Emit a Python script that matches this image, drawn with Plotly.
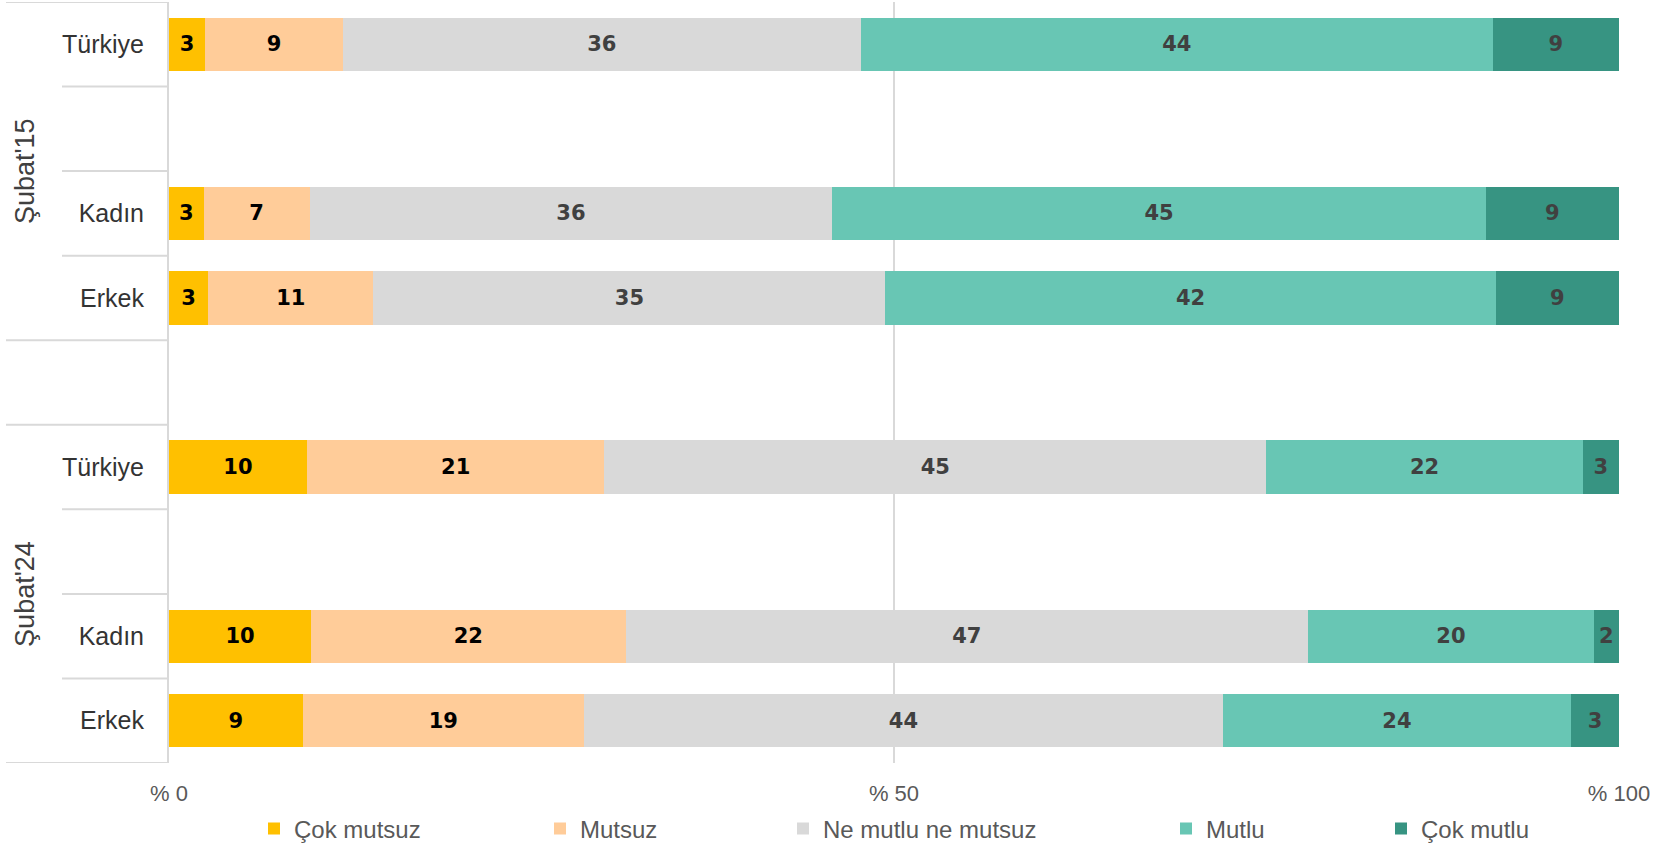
import plotly.graph_objects as go

# ---- data ----
row_keys = ["t15", "b1", "k15", "e15", "gap", "t24", "b2", "k24", "e24"]
row_labels = ["Türkiye", "", "Kadın", "Erkek", "", "Türkiye", "", "Kadın", "Erkek"]
group_labels = ["Şubat'15", "Şubat'24"]
bar_rows = ["t15", "k15", "e15", "t24", "k24", "e24"]

series = ["Çok mutsuz", "Mutsuz", "Ne mutlu ne mutsuz", "Mutlu", "Çok mutlu"]

# segment sizes (%)
cok_mutsuz = [2.5, 2.4, 2.7, 9.5, 9.8, 9.2]
mutsuz = [9.5, 7.3, 11.4, 20.5, 21.7, 19.4]
ne_mutlu = [35.7, 36.1, 35.3, 45.6, 47.1, 44.0]
mutlu = [43.6, 45.1, 42.1, 21.8, 19.7, 24.0]
cok_mutlu = [8.7, 9.2, 8.5, 2.5, 1.75, 3.3]

# printed value labels
lbl_cok_mutsuz = [3, 3, 3, 10, 10, 9]
lbl_mutsuz = [9, 7, 11, 21, 22, 19]
lbl_ne_mutlu = [36, 36, 35, 45, 47, 44]
lbl_mutlu = [44, 45, 42, 22, 20, 24]
lbl_cok_mutlu = [9, 9, 9, 3, 2, 3]

x_tickvals = [0, 50, 100]
x_ticktext = ["% 0", "% 50", "% 100"]

colors = ["#FFC000", "#FFCC99", "#D9D9D9", "#68C6B4", "#379482"]
text_colors = ["#000000", "#000000", "#404040", "#404040", "#404040"]
values = [cok_mutsuz, mutsuz, ne_mutlu, mutlu, cok_mutlu]
labels = [lbl_cok_mutsuz, lbl_mutsuz, lbl_ne_mutlu, lbl_mutlu, lbl_cok_mutlu]

# legend text start positions in page pixels (reference)
legend_text_px = [293, 579, 822, 1205, 1420]

W, H = 1655, 845
ML, MR, MT = 169, 36, 2
PLOT_BOTTOM = 763
MB = H - PLOT_BOTTOM
PW = W - ML - MR
PH = H - MT - MB

fig = go.Figure()
legend_ids = ["legend", "legend2", "legend3", "legend4", "legend5"]
for i, name in enumerate(series):
    fig.add_trace(go.Bar(
        y=bar_rows, x=values[i], orientation="h", name=name,
        marker=dict(color=colors[i], line=dict(width=0)),
        text=[str(v) for v in labels[i]],
        textposition="inside", insidetextanchor="middle", textangle=0,
        textfont=dict(family="DejaVu Sans", size=21, weight="bold", color=text_colors[i]),
        legend=legend_ids[i], hoverinfo="skip",
    ))

layout_legends = {}
for i, lid in enumerate(legend_ids):
    layout_legends[lid] = dict(
        x=(legend_text_px[i] - 39 - ML) / PW, xanchor="left",
        y=-(829 - PLOT_BOTTOM) / PH, yanchor="middle",
        orientation="h", bgcolor="rgba(0,0,0,0)",
        font=dict(family="Liberation Sans, Arial, sans-serif", size=24, color="#595959"),
        itemwidth=30,
    )

shapes = []
line_col = "#D9D9D9"
for b in [-0.5, 3.5, 4.5, 8.5]:
    shapes.append(dict(type="line", xref="paper", yref="y",
                       x0=(6 - ML) / PW, x1=0, y0=b, y1=b,
                       line=dict(color=line_col, width=2)))
for b in [0.5, 1.5, 2.5, 5.5, 6.5, 7.5]:
    shapes.append(dict(type="line", xref="paper", yref="y",
                       x0=(62 - ML) / PW, x1=0, y0=b, y1=b,
                       line=dict(color=line_col, width=2)))

annotations = []
for g, center in zip(group_labels, [1.5, 6.5]):
    annotations.append(dict(
        text=g, x=0, xref="paper", y=center, yref="y", xshift=25 - ML,
        textangle=-90, showarrow=False, xanchor="center", yanchor="middle",
        font=dict(family="Liberation Sans, Arial, sans-serif", size=27, color="#404040"),
    ))

fig.update_layout(
    width=W, height=H,
    margin=dict(l=ML, r=MR, t=MT, b=MB, autoexpand=False),
    paper_bgcolor="white", plot_bgcolor="white",
    barmode="stack", barnorm="percent", bargap=0.37,
    showlegend=True,
    shapes=shapes, annotations=annotations,
    xaxis=dict(range=[0, 100], tickvals=x_tickvals, ticktext=x_ticktext,
               showgrid=True, gridcolor=line_col, gridwidth=2,
               zeroline=False, showline=False, ticks="", ticklabelstandoff=15,
               tickfont=dict(family="Liberation Sans, Arial, sans-serif", size=22, color="#595959")),
    yaxis=dict(type="category", categoryorder="array", categoryarray=row_keys,
               range=[8.5, -0.5], tickvals=row_keys, ticktext=row_labels,
               showgrid=False, zeroline=False, showline=True, linecolor=line_col,
               linewidth=2, ticks="", ticklabelstandoff=18,
               tickfont=dict(family="Liberation Sans, Arial, sans-serif", size=25, color="#333333")),
    **layout_legends,
)

# remove the browser's default body margin so the figure sits at the window origin
fig.write_html("out.html", config={"displayModeBar": False},
               post_script="document.body.style.margin='0';")
